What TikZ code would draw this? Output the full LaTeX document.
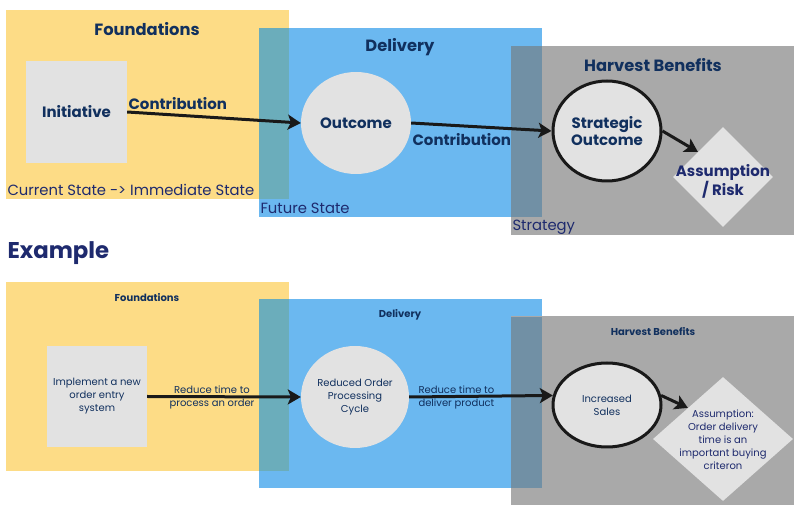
\documentclass[tikz,border=0pt]{standalone}
\usepackage{fontspec}
\setmainfont{Poppins}
\usetikzlibrary{shapes.geometric,arrows.meta}

\definecolor{foundYellow}{HTML}{FDDC86}
\definecolor{delivBlue}{HTML}{6BB8F0}
\definecolor{harvGray}{HTML}{A9A9A9}
\definecolor{tealMix}{HTML}{6BADBB}
\definecolor{slateMix}{HTML}{7190A5}
\definecolor{boxGray}{HTML}{E2E2E2}
\definecolor{navy}{HTML}{11305E}
\definecolor{ink}{HTML}{1E2A6E}

\begin{document}
\begin{tikzpicture}[
		x=1pt, y=-1pt,
		every node/.style={align=center, text=navy},
		area/.style={rectangle, minimum width=283pt, minimum height=189pt, inner sep=0pt},
		found/.style={area, fill=foundYellow},
		deliv/.style={area, fill=delivBlue},
		harv/.style={area, fill=harvGray},
		title/.style={font=\bfseries\fontsize{16.3}{19}\selectfont},
		smalltitle/.style={font=\bfseries\fontsize{10}{12}\selectfont},
		big/.style={font=\bfseries\fontsize{15}{17}\selectfont},
		small/.style={font=\fontsize{10}{13}\selectfont},
		state/.style={anchor=west, text=ink, font=\fontsize{14.8}{16}\selectfont},
		initbox/.style={rectangle, fill=boxGray, inner sep=0pt},
		outc/.style={ellipse, fill=boxGray, inner sep=0pt},
		strat/.style={ellipse, fill=boxGray, draw=black!90, line width=3pt, inner sep=0pt},
		risk/.style={diamond, fill=boxGray, inner sep=0pt, aspect=1},
		contrib/.style={draw=black!90, line width=3pt, -{Stealth[length=13pt, width=15pt, inset=3pt]}}
		]
		\useasboundingbox[fill=white] (0,0) rectangle (807,518);
		
		% Top: areas
		\node[found] (found) at (147.5,104.5) {};
		\node[deliv] (deliv) at (400.5,122.5) {};
		\fill[tealMix] (259,28) rectangle (289,199);
		\node[harv] (harv) at (652.5,140.5) {};
		\fill[slateMix] (511,46) rectangle (542,217);
		
		\node[title] (foundT) at (147,29) {Foundations};
		\node[title] (delivT) at (400,47) {Delivery};
		\node[title] (harvT) at (653,65) {Harvest Benefits};
		
		\node[state] (current) at (4,190) {Current State -> Immediate State};
		\node[state] (future) at (257,208) {Future State};
		\node[state] (strategy) at (509,227) {Strategy};
		
		% Top: chain
		\node[initbox, minimum width=101pt, minimum height=102pt, big] (init) at (76.5,112) {Initiative};
		\node[outc, minimum width=110pt, minimum height=102pt, big] (outc) at (356,123) {Outcome};
		\node[strat, minimum width=108pt, minimum height=100pt, big] (stratO) at (607,131) {Strategic\\Outcome};
		\node[risk, minimum width=100pt, minimum height=100pt] (risk) at (723,177) {};
		\node[big, text=ink] (riskT) at ([yshift=-4.5pt]risk.center) {Assumption\\/ Risk};
		
		\draw[contrib] (init.east) -- (outc.west);
		\draw[contrib] (outc.east) -- (stratO.west);
		\draw[contrib] (stratO.east) -- (risk.north west);
		\node[big, anchor=west] (contribA) at (125,104) {Contribution};
		\node[big, anchor=west] (contribB) at (409,140) {Contribution};
		
		% Example heading
		\node[anchor=west, font=\bfseries\fontsize{22.8}{26}\selectfont, text=ink] (example) at (4,253) {Example};
		
		% Bottom: areas
		\node[found] (found2) at (147.5,376.5) {};
		\node[deliv] (deliv2) at (400.5,393.5) {};
		\fill[tealMix] (259,299) rectangle (289,471);
		\node[harv] (harv2) at (652.5,411) {};
		\fill[slateMix] (511,317) rectangle (542,488);
		
		\node[smalltitle] (foundT2) at (147,298) {Foundations};
		\node[smalltitle] (delivT2) at (400,315) {Delivery};
		\node[smalltitle] (harvT2) at (653,332) {Harvest Benefits};
		
		% Bottom: chain
		\node[initbox, minimum width=100pt, minimum height=101pt, small] (impl) at (97,396.5) {Implement a new\\order entry\\system};
		\node[outc, minimum width=108pt, minimum height=102pt, small] (cycle) at (355,397) {Reduced Order\\Processing\\Cycle};
		\node[strat, minimum width=108pt, minimum height=84pt, small] (sales) at (607,405) {Increased\\Sales};
		\node[risk, minimum width=140pt, minimum height=124pt] (crit) at (723,439) {};
		\node[small, text=ink] (critT) at ([yshift=-1pt]crit.center) {Assumption:\\Order delivery\\time is an\\important buying\\criteron};
		
		\draw[contrib] (impl.east) -- (cycle.west);
		\draw[contrib] (cycle.east) -- (sales.170);
		\draw[contrib] (sales.10) -- (crit.north west);
		\node[small] (reduceA) at (212,397) {Reduce time to\\process an order};
		\node[small, anchor=west, align=left] (reduceB) at (415,397) {Reduce time to\\deliver product};
		
	\end{tikzpicture}
\end{document}
